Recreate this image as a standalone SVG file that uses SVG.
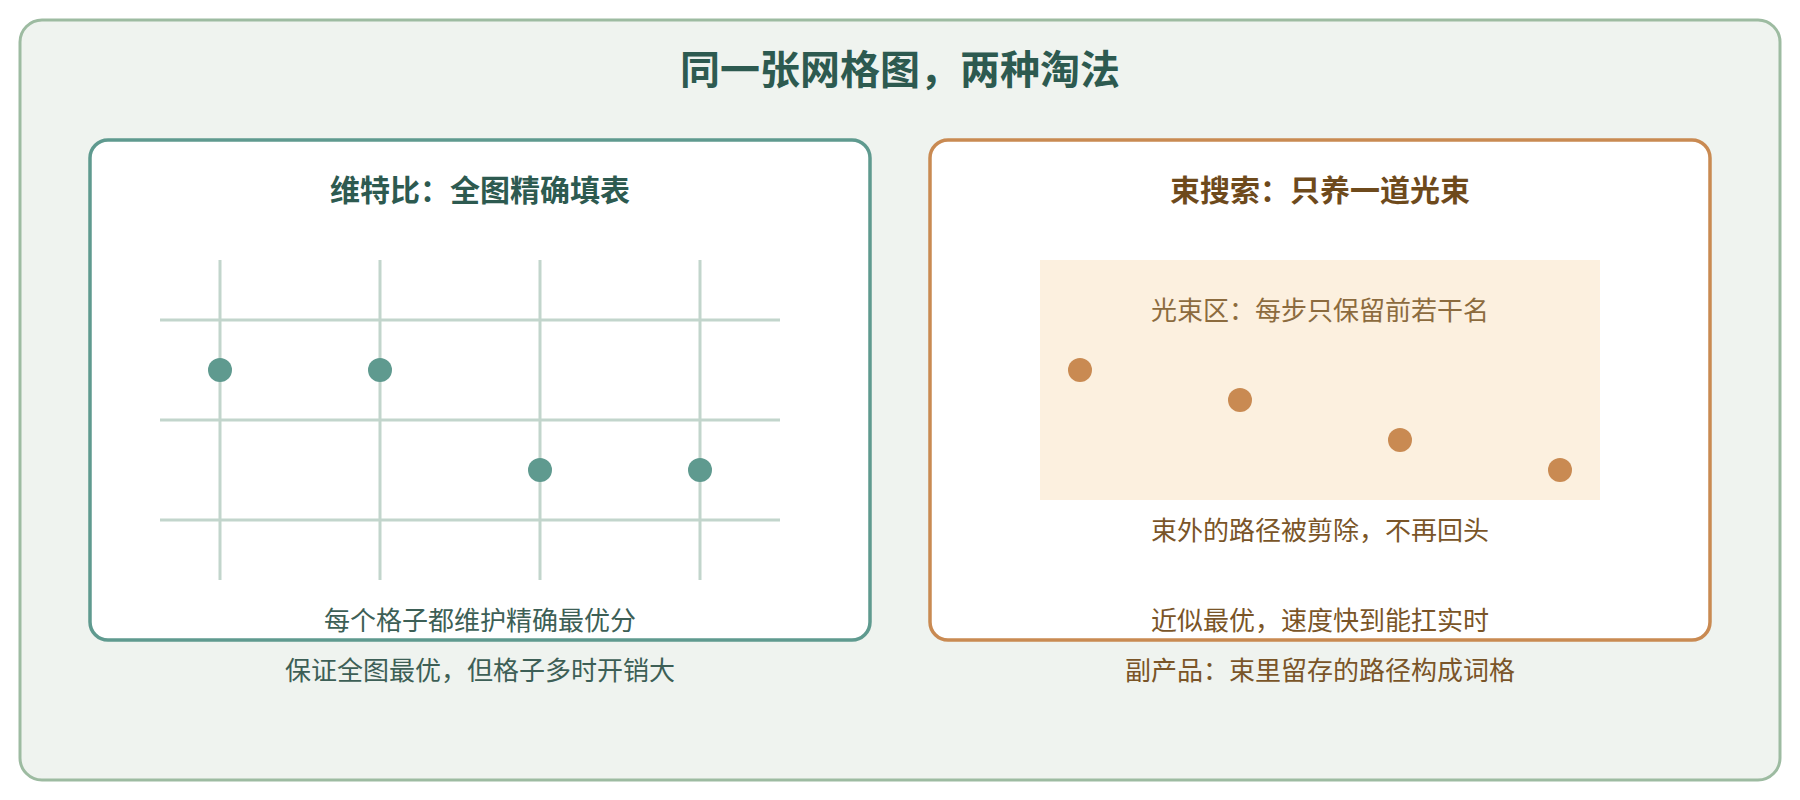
<svg xmlns="http://www.w3.org/2000/svg" width="1800" height="800" viewBox="0 0 1800 800">
  <style>
    text { font-family: "Noto Sans CJK SC", "Noto Sans", sans-serif; text-anchor: middle; }
    .title { font-size: 40px; font-weight: bold; fill: #2d5a50; }
    .ptitle { font-size: 30px; font-weight: bold; }
    .cap { font-size: 26px; }
    .green { fill: #3d5f56; }
    .brown { fill: #7a5528; }
    .grid line { stroke: #c2d5cc; stroke-width: 3; }
    .gdot { fill: #5f9a8f; }
    .bdot { fill: #c98a52; }
  </style>
  <rect x="0" y="0" width="1800" height="800" fill="#ffffff"/>
  <g id="frame">
    <rect x="20" y="20" width="1760" height="760" rx="22" fill="#eff3ef" stroke="#9dbba1" stroke-width="3"/>
    <text class="title" x="900" y="84">同一张网格图，两种淘法</text>
  </g>
  <g id="viterbi">
    <rect x="90" y="140" width="780" height="500" rx="18" fill="#ffffff" stroke="#5f9a8f" stroke-width="3.5"/>
    <text class="ptitle" x="480" y="201" fill="#2d5a50">维特比：全图精确填表</text>
    <g class="grid">
      <line x1="220" y1="260" x2="220" y2="580"/>
      <line x1="380" y1="260" x2="380" y2="580"/>
      <line x1="540" y1="260" x2="540" y2="580"/>
      <line x1="700" y1="260" x2="700" y2="580"/>
      <line x1="160" y1="320" x2="780" y2="320"/>
      <line x1="160" y1="420" x2="780" y2="420"/>
      <line x1="160" y1="520" x2="780" y2="520"/>
    </g>
    <circle class="gdot" cx="220" cy="370" r="12"/>
    <circle class="gdot" cx="380" cy="370" r="12"/>
    <circle class="gdot" cx="540" cy="470" r="12"/>
    <circle class="gdot" cx="700" cy="470" r="12"/>
    <text class="cap green" x="480" y="630">每个格子都维护精确最优分</text>
  </g>
  <text id="viterbi-note" class="cap green" x="480" y="680">保证全图最优，但格子多时开销大</text>
  <g id="beam">
    <rect x="930" y="140" width="780" height="500" rx="18" fill="#ffffff" stroke="#c98a52" stroke-width="3.5"/>
    <text class="ptitle" x="1320" y="201" fill="#6e4a1c">束搜索：只养一道光束</text>
    <rect id="beam-zone" x="1040" y="260" width="560" height="240" fill="#fcf0df"/>
    <text class="cap" x="1320" y="320" fill="#8c6b3e">光束区：每步只保留前若干名</text>
    <circle class="bdot" cx="1080" cy="370" r="12"/>
    <circle class="bdot" cx="1240" cy="400" r="12"/>
    <circle class="bdot" cx="1400" cy="440" r="12"/>
    <circle class="bdot" cx="1560" cy="470" r="12"/>
    <text class="cap brown" x="1320" y="540">束外的路径被剪除，不再回头</text>
    <text class="cap brown" x="1320" y="630">近似最优，速度快到能扛实时</text>
  </g>
  <text id="beam-note" class="cap brown" x="1320" y="680">副产品：束里留存的路径构成词格</text>
  <g id="connectors"/>
</svg>
